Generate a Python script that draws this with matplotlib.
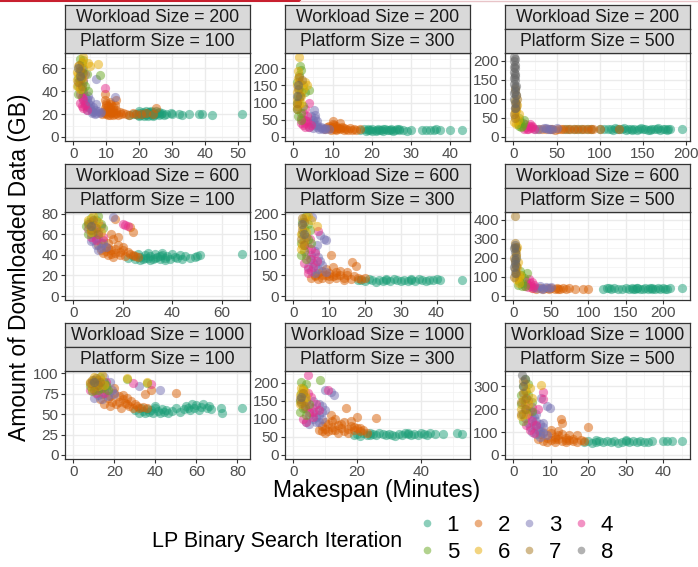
import matplotlib.pyplot as plt
from matplotlib.lines import Line2D

plt.rcParams['font.family'] = ['Liberation Sans', 'DejaVu Sans']

# --- 数据: 每个面板 {迭代次数: [(makespan, 下载量), ...]} ---
W200_P100 = {
    1: [(19, 20), (19.5, 19), (20, 21), (20.5, 19.5), (21, 20), (21, 22), (21.5, 18.5), (22, 20.5), (22, 19),
        (22.5, 21), (23, 20), (23, 22), (23.5, 19), (24, 20.5), (24, 21.5), (24.5, 19.5), (25, 20), (25.5, 21),
        (26, 19.5), (26.5, 20.5), (27, 21), (20, 22.5), (22, 23), (18, 20), (17, 19.5), (29.5, 21), (30, 20.5),
        (32, 20), (33, 19), (35, 20), (38, 20.5), (39, 20), (42, 19.5), (51, 20.5), (23.5, 23), (25, 22.5),
        (20, 18.5), (21.5, 21), (22.5, 18), (23, 21.5), (24, 18.5), (26, 22), (27.5, 19.5), (28, 20.5)],
    2: [(9, 22), (9.5, 25), (10, 20), (10, 28), (10.5, 23), (11, 19), (11, 26), (11, 31), (11.5, 21), (12, 24),
        (12, 19), (12.5, 28), (13, 21), (13, 32), (13.5, 19.5), (14, 22), (14.5, 20), (15, 21), (16, 20),
        (17, 19.5), (18, 21), (19, 20), (20.5, 20), (22, 21), (24, 20), (25, 25), (9.5, 38), (9.5, 32),
        (10, 30), (8.8, 20.5), (12, 22), (10, 24), (10.5, 27), (11, 21.5), (11.5, 29), (12, 26), (12.5, 20),
        (13, 24), (9.5, 21), (10.5, 19)],
    3: [(3, 38), (3.5, 35), (3.5, 30), (4, 33), (4, 27), (4.5, 30), (5, 25), (5, 28), (5.5, 23), (6, 26),
        (6, 22), (6.5, 24), (7, 21), (7.5, 23), (8, 21), (4.5, 36), (5, 32), (7, 29), (7, 51), (12.5, 35),
        (4, 24), (5.5, 21), (6.5, 20), (8.5, 22), (3, 32), (4.5, 26)],
    4: [(2, 30), (2.5, 27), (2.5, 35), (3, 25), (3, 40), (3.5, 28), (2, 45), (3, 50), (3.5, 55), (2.5, 60),
        (4, 24), (9.5, 43), (2, 38), (3, 33)],
    5: [(1.5, 45), (2, 50), (2, 55), (2.5, 65), (3, 60), (3, 48), (1.5, 38), (2.5, 42), (3.5, 45), (4, 55),
        (2, 68), (3, 67), (8, 54), (4.5, 40), (1.5, 52), (2.5, 57)],
    6: [(1, 50), (1.5, 55), (1.5, 62), (2, 60), (2, 42), (1, 45), (2.5, 66), (3, 70), (4.5, 65), (5, 62),
        (1.2, 57), (2.5, 52), (7.5, 64)],
    7: [(1.5, 48), (2, 58), (2.5, 45), (1.8, 63), (2.2, 52), (3, 56)],
    8: [(2, 53), (1.5, 60)],
}
W200_P300 = {
    1: [(17, 20), (18, 22), (18.5, 18), (19, 21), (19.5, 19), (20, 23), (20, 18), (21, 20), (21.5, 22), (22, 19),
        (22.5, 21), (23, 18), (23.5, 22), (24, 20), (24.5, 19), (25, 21), (25.5, 18), (26, 20), (26.5, 22),
        (27, 19), (28, 20), (30, 21), (33, 19), (34, 20), (35, 21), (36, 19), (36.5, 22), (37.5, 20), (40, 19),
        (43, 20), (19, 24), (21, 17), (23, 24), (25, 23), (27, 23), (29, 18)],
    2: [(8, 22), (8.5, 30), (9, 25), (9.5, 20), (10, 28), (10, 38), (10.5, 22), (11, 32), (11, 19), (11.5, 26),
        (12, 22), (12.5, 30), (13, 20), (13.5, 24), (14, 21), (14.5, 25), (15, 20), (15.5, 23), (16, 20),
        (17, 22), (10, 45), (12, 40), (9, 33), (10.5, 35), (11, 24), (12, 27), (13, 26), (9.5, 26)],
    3: [(4, 30), (4.5, 40), (5, 25), (5, 50), (5.5, 35), (6, 28), (6, 45), (6.5, 22), (7, 30), (7.5, 24),
        (8, 26), (5.2, 78), (5.6, 63), (4.5, 60), (9, 22), (5, 40), (6, 35), (7, 26), (8, 22), (5.5, 55)],
    4: [(2, 40), (2.5, 35), (3, 30), (3, 50), (3.5, 45), (4, 28), (3.5, 60), (2.5, 70), (4, 98), (3, 80),
        (4.5, 35), (2, 55), (3, 40), (2.5, 48)],
    5: [(0.8, 80), (1, 100), (1.2, 120), (1.5, 140), (1, 160), (1.5, 180), (2, 195), (1.8, 205), (2, 70),
        (2.5, 90), (3, 130), (3.9, 137), (2.5, 150), (1.2, 60), (2, 50), (1.5, 110), (2, 130)],
    6: [(0.8, 110), (1, 130), (1, 150), (1.2, 170), (1.5, 232), (1.2, 190), (1.5, 160), (2, 120), (2.5, 140),
        (0.8, 90), (2, 100), (3, 160), (3.5, 150), (1.5, 95)],
    7: [(1, 100), (1.2, 140), (1.5, 175), (1.8, 120), (1, 80), (2.2, 165)],
    8: [(1, 120), (1.3, 150)],
}
W200_P500 = {
    1: [(60, 22), (65, 20), (70, 22), (75, 21), (80, 22), (85, 20), (90, 22), (100, 21), (105, 20), (110, 22),
        (113, 21), (116, 19), (120, 22), (123, 20), (126, 21), (130, 19), (133, 22), (136, 20), (140, 21),
        (143, 19), (146, 22), (150, 20), (153, 21), (156, 19), (160, 22), (163, 20), (166, 21), (170, 19),
        (173, 22), (176, 20), (179, 21), (181, 22), (195, 22), (118, 24), (128, 23), (148, 23), (168, 23),
        (138, 18), (158, 18), (178, 18)],
    2: [(28, 21), (33, 22), (38, 20), (45, 21), (52, 22), (58, 20), (62, 22), (66, 21), (70, 20), (74, 22),
        (78, 21), (82, 20), (86, 22), (90, 21), (92, 20), (100, 22), (55, 20), (48, 19), (42, 22), (122, 22)],
    3: [(25, 22), (30, 21), (35, 23), (40, 22), (45, 21), (50, 23), (38, 24), (42, 20)],
    4: [(12, 22), (15, 25), (18, 28), (20, 23), (22, 30), (17, 21), (24, 22), (14, 33), (19, 35), (16, 22),
        (21, 26)],
    5: [(5, 35), (8, 40), (10, 30), (12, 45), (7, 50), (9, 25), (6, 28), (11, 38)],
    6: [(1, 40), (2, 55), (3, 70), (4, 85), (2, 95), (5, 45), (3, 35), (1.5, 65), (6, 60)],
    7: [(1, 60), (2, 75), (3, 90), (2.5, 110), (1.5, 125), (4, 100), (3, 80), (2, 50)],
    8: [(0.5, 210), (1, 200), (1.5, 190), (2, 180), (1, 170), (1.5, 160), (2, 150), (1, 140), (1.5, 130),
        (2, 120), (2.5, 110), (1, 100), (1.5, 90), (2, 165), (1, 185), (0.8, 155), (2.5, 135), (1.5, 75),
        (2, 205), (1, 115)],
}
W600_P100 = {
    1: [(22, 37), (24, 39), (25, 36), (26, 41), (27, 38), (28, 36), (29, 40), (30, 37), (31, 39), (32, 36),
        (33, 41), (34, 38), (35, 36), (36, 40), (37, 37), (38, 39), (39, 36), (40, 41), (41, 38), (42, 37),
        (43, 40), (44, 36), (45, 39), (47, 37), (49, 38), (50, 39), (51, 40), (68, 41), (30, 42), (36, 42),
        (27, 35), (29, 37), (31, 35), (33, 37), (35, 39), (37, 35)],
    2: [(10, 50), (11, 45), (12, 55), (12, 42), (13, 48), (14, 40), (14, 52), (15, 45), (16, 38), (16, 56),
        (17, 42), (18, 50), (19, 40), (20, 45), (21, 39), (22, 43), (23, 41), (24, 40), (25, 39), (26, 38),
        (18, 58), (15, 60), (24, 62), (23, 67), (17, 75), (20, 48), (13, 44), (15, 41), (17, 46), (19, 43),
        (11, 52), (14, 47)],
    3: [(7, 60), (8, 55), (9, 50), (10, 58), (11, 47), (12, 52), (9, 62), (13, 48), (8, 65), (16, 77), (10, 45),
        (7, 54), (9, 57)],
    4: [(6, 65), (7, 58), (8, 70), (9, 55), (10, 62), (11, 68), (7, 72), (12, 58), (21, 69), (22, 68), (20, 70)],
    5: [(5, 68), (6, 72), (7, 76), (8, 62), (9, 74), (10, 78), (11, 70), (6, 60), (12, 66)],
    6: [(6, 74), (7, 66), (8, 78), (9, 68), (10, 72), (11, 62), (7, 62)],
    7: [(6, 70), (7, 64), (8, 74), (9, 66), (10, 60)],
    8: [(7, 68)],
}
W600_P300 = {
    1: [(18, 38), (19, 40), (20, 36), (21, 41), (22, 38), (23, 35), (24, 40), (25, 37), (26, 39), (27, 36),
        (28, 41), (29, 38), (30, 37), (31, 40), (32, 36), (33, 39), (34, 37), (35, 41), (36, 38), (37, 36),
        (38, 40), (39, 38), (40, 41), (41, 39), (47, 38), (26, 42), (33, 42)],
    2: [(5, 45), (6, 50), (7, 55), (7, 42), (8, 60), (8, 45), (9, 50), (9, 65), (10, 42), (10, 55), (11, 48),
        (11, 70), (12, 44), (12, 58), (13, 50), (14, 45), (15, 52), (16, 42), (17, 48), (18, 45), (19, 42),
        (20, 44), (10.4, 101), (16.5, 82), (17.5, 72), (15, 58), (6, 48), (13, 62), (8, 52), (10, 48),
        (12, 51), (14, 40)],
    3: [(4, 70), (4.5, 90), (5, 60), (5, 100), (5.5, 80), (6, 55), (6, 110), (7, 65), (7, 95), (8, 75),
        (8.5, 138), (9, 136), (7.5, 148), (5.2, 192), (9, 58), (6.5, 125), (6, 75), (7.5, 85)],
    4: [(3, 80), (3.5, 100), (4, 120), (4, 65), (4.5, 140), (5, 90), (5.5, 70), (6, 105), (7, 158), (3, 125),
        (4, 55), (6.5, 85), (5, 115)],
    5: [(2, 130), (2.5, 150), (2.5, 180), (3, 110), (3, 165), (3.5, 195), (4, 140), (4, 175), (2, 100),
        (3.5, 90), (5, 130), (4.5, 160)],
    6: [(2, 150), (2.5, 170), (3, 190), (3, 135), (3.5, 155), (4, 195), (2, 115), (6.6, 171), (5, 185),
        (2.5, 125)],
    7: [(2, 140), (2.5, 160), (3, 180), (3.5, 145), (2.5, 190), (3, 125)],
    8: [(2.5, 175), (3, 150)],
}
W600_P500 = {
    1: [(120, 38), (125, 40), (130, 36), (135, 42), (140, 38), (145, 35), (150, 40), (155, 37), (158, 42),
        (160, 38), (163, 36), (166, 41), (170, 38), (173, 35), (176, 40), (180, 37), (183, 42), (186, 38),
        (190, 36), (193, 40), (196, 38), (200, 41), (203, 37), (206, 39), (210, 40), (225, 40), (165, 44),
        (185, 44), (128, 44)],
    2: [(25, 40), (30, 38), (35, 42), (40, 38), (45, 40), (50, 42), (55, 38), (58, 41), (62, 39), (66, 42),
        (70, 38), (75, 40), (82, 39), (93, 39), (100, 39), (48, 36), (60, 36)],
    3: [(28, 45), (32, 40), (36, 50), (40, 44), (44, 48), (48, 42), (50, 46), (38, 38)],
    4: [(15, 50), (18, 65), (20, 45), (22, 70), (24, 55), (26, 42), (28, 60), (17, 80), (21, 90), (25, 75)],
    5: [(6, 60), (8, 80), (10, 110), (12, 70), (14, 95), (16, 55), (18, 120), (9, 130), (11, 50)],
    6: [(3, 90), (4, 120), (5, 150), (6, 180), (4, 210), (3, 240), (7, 100), (8, 70), (5, 260), (9, 110)],
    7: [(1, 100), (2, 140), (2.5, 180), (3, 220), (2, 260), (1.5, 280), (3.5, 160), (4, 120), (1, 200),
        (2.3, 421), (3, 250)],
    8: [(1, 150), (1.5, 190), (2, 230), (2.5, 270), (1, 250), (1.5, 120), (3, 200), (2, 170)],
}
W1000_P100 = {
    1: [(30, 55), (32, 52), (33, 57), (34, 54), (35, 51), (36, 56), (37, 53), (38, 55), (39, 52), (40, 57),
        (41, 54), (42, 51), (43, 56), (44, 53), (45, 55), (46, 52), (48, 54), (50, 57), (52, 53), (54, 56),
        (55, 60), (56, 58), (57, 55), (58, 62), (59, 57), (60, 61), (61, 55), (62, 59), (63, 62), (65, 57),
        (66, 60), (67, 56), (72, 58), (72.5, 52), (82, 57), (40, 60)],
    2: [(13, 68), (14, 75), (15, 62), (16, 80), (17, 70), (18, 60), (19, 65), (20, 76), (21, 62), (22, 72),
        (23, 58), (24, 68), (25, 64), (26, 70), (27, 60), (28, 66), (29, 58), (30, 62), (31, 60), (32, 58),
        (34, 59), (36, 58), (38, 80), (50, 76), (35, 75), (20, 82), (18, 72), (22, 65), (26, 62), (24, 74)],
    3: [(10, 70), (11, 80), (12, 74), (13, 88), (14, 68), (15, 78), (16, 84), (17, 72), (18, 90), (19, 80),
        (20, 75), (32, 84), (42, 80), (11, 90), (15, 95)],
    4: [(8, 80), (9, 88), (10, 84), (11, 76), (12, 92), (13, 82), (14, 86), (15, 76), (29, 88), (38, 87),
        (16, 90)],
    5: [(8, 85), (9, 78), (10, 92), (11, 86), (12, 80), (13, 95), (14, 82), (15, 90), (16, 86), (26, 93),
        (36, 88), (17, 80)],
    6: [(8, 90), (9, 82), (10, 96), (11, 88), (12, 84), (13, 92), (14, 98), (15, 86), (26, 94), (36, 90)],
    7: [(8, 88), (9, 92), (10, 80), (11, 94), (12, 86), (13, 90)],
    8: [(10, 90)],
}
W1000_P300 = {
    1: [(19, 55), (20, 58), (21, 53), (22, 60), (23, 56), (24, 54), (25, 58), (26, 55), (27, 61), (28, 57),
        (29, 54), (30, 59), (31, 56), (32, 53), (33, 58), (34, 55), (35, 60), (36, 57), (37, 54), (38, 59),
        (39, 56), (40, 61), (41, 58), (42, 55), (43, 60), (44.5, 58), (47, 58), (51.5, 61), (52.8, 59),
        (24, 62), (36, 62)],
    2: [(8, 70), (9, 80), (9, 65), (10, 90), (10, 72), (11, 85), (11, 65), (12, 78), (12, 95), (13, 68),
        (14, 82), (14, 62), (15, 75), (16, 90), (16, 65), (17, 72), (18, 80), (19, 68), (20, 75), (21, 65),
        (22, 70), (23, 62), (16.4, 131), (20, 105), (26, 101), (11.7, 110), (18, 95), (13, 100), (10, 62),
        (12, 70), (15, 85), (17, 62), (19, 78), (21, 74)],
    3: [(4, 90), (5, 110), (5, 85), (6, 130), (6, 100), (7, 120), (7, 90), (8, 110), (8, 140), (9, 100),
        (10, 125), (10, 180), (12.7, 166), (11.7, 175), (9, 135), (6, 150), (7, 105), (8, 90), (9, 118)],
    4: [(3, 100), (3.5, 130), (4, 150), (4, 90), (4.5, 170), (5, 120), (5.5, 160), (6, 105), (7, 140),
        (4.6, 221), (11, 180), (8, 125), (5, 135), (6, 120)],
    5: [(2, 150), (2.5, 170), (3, 185), (3, 130), (3.5, 160), (4, 195), (2.5, 203), (8.5, 207), (2, 120),
        (4, 110), (5, 140)],
    6: [(2, 165), (2.5, 185), (3, 150), (3.1, 180), (3.5, 175), (2, 140), (4, 160)],
    7: [(2, 155), (2.5, 145), (3, 170), (3.5, 135)],
    8: [(2.5, 160)],
}
W1000_P500 = {
    1: [(19, 56), (20, 60), (21, 54), (22, 58), (23, 62), (24, 55), (25, 59), (26, 56), (27, 61), (28, 54),
        (29, 58), (30, 62), (31, 55), (32, 59), (33, 57), (34, 61), (35, 55), (36, 58), (37, 60), (40, 63),
        (41, 61), (42.5, 63), (45, 60), (22, 66), (30, 66)],
    2: [(6.5, 70), (7, 90), (8, 60), (8, 100), (9, 75), (9, 55), (10, 95), (10, 65), (11, 80), (11, 55),
        (12, 105), (12, 70), (13, 60), (13, 90), (14, 75), (14, 55), (15, 85), (15, 65), (16, 70), (17, 85),
        (17, 58), (18, 65), (19, 60), (12.7, 155), (13, 141), (20, 122), (10, 110), (11, 68), (12, 88),
        (14, 65), (16, 60)],
    3: [(4, 140), (4.5, 120), (5, 160), (5, 100), (5.5, 130), (6, 90), (6, 150), (6.5, 110), (7, 80),
        (7, 135), (8, 95), (8, 120), (9, 85), (9.8, 204), (9, 211), (7.3, 249), (6, 180), (5, 185), (6, 125),
        (7, 105), (8, 140), (5.5, 165)],
    4: [(3, 160), (3.5, 200), (3.5, 130), (4, 240), (4, 180), (4.5, 110), (5, 210), (5, 150), (5.5, 95),
        (6, 130), (8, 243), (7.8, 275), (6.5, 200), (3, 220), (4.5, 190)],
    5: [(2, 220), (2, 260), (2.5, 300), (2.5, 180), (3, 240), (3, 330), (3.5, 280), (3.5, 200), (4, 260),
        (2.5, 150), (4, 310), (5, 230), (5, 190)],
    6: [(2, 200), (2.5, 240), (3, 280), (3, 310), (3.5, 180), (4, 220), (4.5, 290), (7.3, 303), (2, 170),
        (5, 250)],
    7: [(2, 230), (2.5, 270), (3, 200), (3.5, 250), (2.5, 320), (2, 180)],
    8: [(2.4, 348), (2.5, 300), (3, 330)],
}

WORKLOADS = [200, 600, 1000]
PLATFORMS = [100, 300, 500]
PANELS = [[W200_P100, W200_P300, W200_P500],
          [W600_P100, W600_P300, W600_P500],
          [W1000_P100, W1000_P300, W1000_P500]]
X_TICKS = [[[0, 10, 20, 30, 40, 50], [0, 10, 20, 30, 40], [0, 50, 100, 150, 200]],
           [[0, 20, 40, 60], [0, 10, 20, 30, 40], [0, 50, 100, 150, 200]],
           [[0, 20, 40, 60, 80], [0, 20, 40], [0, 10, 20, 30, 40]]]
Y_TICKS = [[[0, 20, 40, 60], [0, 50, 100, 150, 200], [0, 50, 100, 150, 200]],
           [[0, 20, 40, 60, 80], [0, 50, 100, 150, 200], [0, 100, 200, 300, 400]],
           [[0, 25, 50, 75, 100], [0, 50, 100, 150, 200], [0, 100, 200, 300]]]
ITERATIONS = [1, 2, 3, 4, 5, 6, 7, 8]
COLORS = ['#1B9E77', '#D95F02', '#7570B3', '#E7298A', '#66A61E', '#E6AB02', '#A6761D', '#666666']

# --- 布局 (像素) ---
W, H = 698, 567
COL_LEFT = [65, 285, 505]
ROW_TOP = [53, 212, 371]
PW, PH, SH = 185, 88, 24


def rect(left, top, w, h):
    return [left / W, 1 - (top + h) / H, w / W, h / H]


def style_box(ax):
    for s in ax.spines.values():
        s.set_color('#333333')
        s.set_linewidth(0.9)


def minor_of(ticks, lo, hi):
    step = ticks[1] - ticks[0]
    m = [t + step / 2 for t in [ticks[0] - step] + ticks]
    return [v for v in m if lo <= v <= hi]


fig = plt.figure(figsize=(W / 100, H / 100), dpi=100)

for r in range(3):
    for c in range(3):
        data = PANELS[r][c]
        ax = fig.add_axes(rect(COL_LEFT[c], ROW_TOP[r], PW, PH))
        xmax, ymax = 0, 0
        for it in ITERATIONS:
            pts = data.get(it, [])
            if not pts:
                continue
            xs = [p[0] for p in pts]
            ys = [p[1] for p in pts]
            xmax, ymax = max(xmax, max(xs)), max(ymax, max(ys))
            ax.scatter(xs, ys, s=44, color=COLORS[it - 1], alpha=0.5, linewidths=0, zorder=3)
        xlim = (-0.05 * xmax, 1.05 * xmax)
        ylim = (-0.05 * ymax, 1.05 * ymax)
        ax.set_xlim(xlim)
        ax.set_ylim(ylim)
        xt = [t for t in X_TICKS[r][c] if xlim[0] <= t <= xlim[1]]
        yt = [t for t in Y_TICKS[r][c] if ylim[0] <= t <= ylim[1]]
        ax.set_xticks(xt)
        ax.set_yticks(yt)
        ax.set_xticks(minor_of(X_TICKS[r][c], *xlim), minor=True)
        ax.set_yticks(minor_of(Y_TICKS[r][c], *ylim), minor=True)
        ax.grid(which='major', color='#EBEBEB', lw=1.0, zorder=0)
        ax.grid(which='minor', color='#F2F2F2', lw=0.5, zorder=0)
        ax.set_axisbelow(True)
        ax.tick_params(which='major', length=3, width=0.8, color='#333333', labelcolor='#4D4D4D',
                       labelsize=11, pad=1.5)
        ax.tick_params(which='minor', length=0)
        style_box(ax)

        # 两层分面标签
        labels = [f'Workload Size = {WORKLOADS[r]}', f'Platform Size = {PLATFORMS[c]}']
        for k, lab in enumerate(labels):
            sax = fig.add_axes(rect(COL_LEFT[c], ROW_TOP[r] - SH * (2 - k), PW, SH))
            sax.set_facecolor('#D9D9D9')
            sax.set_xticks([])
            sax.set_yticks([])
            style_box(sax)
            sax.text(0.5, 0.47, lab, ha='center', va='center', fontsize=12.7, color='#1A1A1A',
                     transform=sax.transAxes)

fig.text(377 / W, 1 - 490 / H, 'Makespan (Minutes)', ha='center', va='center', fontsize=16.5)
fig.text(20 / W, 1 - 267 / H, 'Amount of Downloaded Data (GB)', ha='center', va='center',
         rotation=90, fontsize=16.5)

# --- 图例 ---
fig.text(152 / W, 1 - 542 / H, 'LP Binary Search Iteration', ha='left', va='center', fontsize=15.5)
handles = [Line2D([], [], ls='', marker='o', markersize=5.5, markeredgewidth=0, color=col, alpha=0.5)
           for col in COLORS]
order = [0, 4, 1, 5, 2, 6, 3, 7]
fig.legend([handles[i] for i in order], [str(ITERATIONS[i]) for i in order], ncol=4,
           loc='center left', bbox_to_anchor=(420 / W, 1 - 539 / H), frameon=False, fontsize=16,
           handlelength=0.6, handletextpad=0.6, columnspacing=0.55, labelspacing=0.25,
           borderaxespad=0, borderpad=0)

# 顶部细色条
fig.add_artist(Line2D([0, 300 / W], [1 - 1 / H] * 2, color='#C8202F', lw=1.5, transform=fig.transFigure))
fig.add_artist(Line2D([300 / W, 1], [1 - 1 / H] * 2, color='#E8C4C8', lw=1.0, transform=fig.transFigure))

fig.savefig('out.png', dpi=100)
